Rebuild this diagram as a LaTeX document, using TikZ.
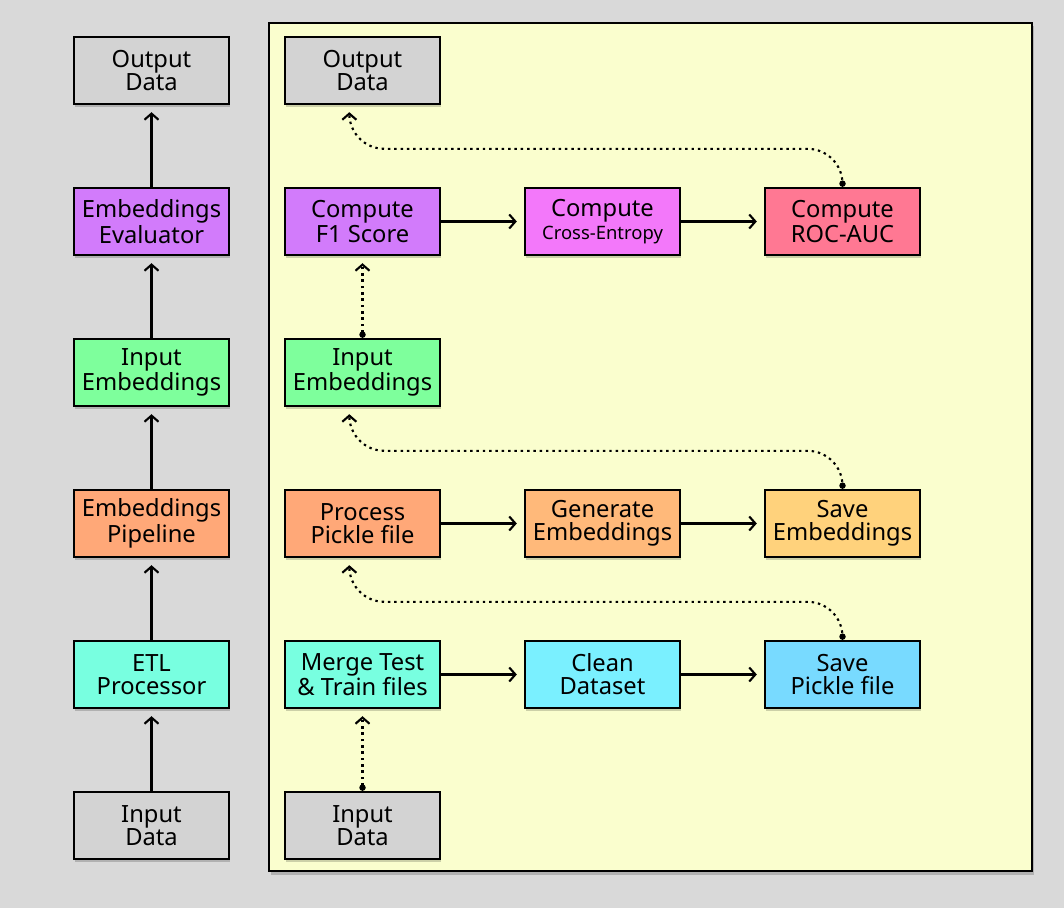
\documentclass[tikz,border=0pt]{standalone}
\usepackage{fontspec}
\setmainfont{Noto Sans}
\usetikzlibrary{arrows.meta, shadows, positioning}

\definecolor{bggray}{HTML}{D9D9D9}
\definecolor{panelyellow}{HTML}{FAFECE}
\definecolor{datagray}{HTML}{D3D3D3}
\definecolor{evalpurple}{HTML}{D27BFB}
\definecolor{xentmagenta}{HTML}{F378FA}
\definecolor{rocred}{HTML}{FF7893}
\definecolor{embgreen}{HTML}{7EFF9C}
\definecolor{pipeorange}{HTML}{FFA878}
\definecolor{genorange}{HTML}{FFB97A}
\definecolor{saveyellow}{HTML}{FFD27C}
\definecolor{etlteal}{HTML}{78FFE0}
\definecolor{cleancyan}{HTML}{7AF0FF}
\definecolor{pickleblue}{HTML}{78DAFF}

\tikzset{
  box/.style={draw, line width=1.35pt, minimum width=3.1cm, minimum height=1.34cm,
    inner sep=0pt, align=center, font=\fontsize{13.5}{13}\selectfont,
    drop shadow={shadow xshift=0.6pt, shadow yshift=-1.6pt, opacity=0.18, fill=black}},
  flow/.style={line width=1.3pt, -{Straight Barb[length=3.5pt, width=8pt, line width=1.2pt]}, shorten >=4pt},
  flowdot/.style={line width=1.2pt, dash pattern=on 1.4pt off 2.2pt, rounded corners=0.7cm,
    {Circle[length=3.6pt]}-{Straight Barb[length=3.5pt, width=8pt, line width=1.2pt]}, shorten >=4pt}
}

\begin{document}
\begin{tikzpicture}[x=0.02cm, y=0.02cm]
  % background
  \fill[bggray] (0,0) rectangle (1064,908);
  \useasboundingbox (0,0) rectangle (1064,908);

  % left column
  \node[box, fill=datagray]   (outL)  at (151.5,837.5) {Output\\Data};
  \node[box, fill=evalpurple] (evalL) at (151.5,686.5) {Embeddings\\Evaluator};
  \node[box, fill=embgreen]   (embL)  at (151.5,535.5) {Input\\Embeddings};
  \node[box, fill=pipeorange] (pipeL) at (151.5,384.5) {Embeddings\\Pipeline};
  \node[box, fill=etlteal]    (etlL)  at (151.5,233.5) {ETL\\Processor};
  \node[box, fill=datagray]   (inL)   at (151.5,82.5)  {Input\\Data};

  \draw[flow] (inL) -- (etlL);
  \draw[flow] (etlL) -- (pipeL);
  \draw[flow] (pipeL) -- (embL);
  \draw[flow] (embL) -- (evalL);
  \draw[flow] (evalL) -- (outL);

  % detail panel
  \draw[line width=1.5pt, fill=panelyellow,
    drop shadow={shadow xshift=1pt, shadow yshift=-2pt, opacity=0.18, fill=black}]
    (269,37) rectangle (1032,885);

  % evaluation row
  \node[box, fill=datagray]    (outR) at (362.5,837.5) {Output\\Data};
  \node[box, fill=evalpurple]  (f1)   at (362.5,686.5) {Compute\\F1 Score};
  \node[box, fill=xentmagenta] (xent) at (602.5,686.5) {Compute\\{\fontsize{10.5}{12}\selectfont Cross-Entropy}};
  \node[box, fill=rocred]      (roc)  at (842.5,686.5) {Compute\\ROC-AUC};

  % embeddings row
  \node[box, fill=embgreen]    (embR) at (362.5,535.5) {Input\\Embeddings};
  \node[box, fill=pipeorange]  (proc) at (362.5,384.5) {Process\\Pickle file};
  \node[box, fill=genorange]   (gen)  at (602.5,384.5) {Generate\\Embeddings};
  \node[box, fill=saveyellow]  (saveE) at (842.5,384.5) {Save\\Embeddings};

  % etl row
  \node[box, fill=etlteal]     (merge) at (362.5,233.5) {Merge Test\\\& Train files};
  \node[box, fill=cleancyan]   (clean) at (602.5,233.5) {Clean\\Dataset};
  \node[box, fill=pickleblue]  (saveP) at (842.5,233.5) {Save\\Pickle file};
  \node[box, fill=datagray]    (inR)   at (362.5,82.5)  {Input\\Data};

  % solid flow
  \draw[flow] (f1) -- (xent);
  \draw[flow] (xent) -- (roc);
  \draw[flow] (proc) -- (gen);
  \draw[flow] (gen) -- (saveE);
  \draw[flow] (merge) -- (clean);
  \draw[flow] (clean) -- (saveP);

  % dotted hand-offs
  \draw[flowdot] (inR.north) -- (merge.south);
  \draw[flowdot] (embR.north) -- (f1.south);
  \draw[flowdot] (saveP.north) -- ++(0,38) -| ([xshift=-7.5]proc.south);
  \draw[flowdot] (saveE.north) -- ++(0,38) -| ([xshift=-7.5]embR.south);
  \draw[flowdot] (roc.north) -- ++(0,38) -| ([xshift=-7.5]outR.south);
\end{tikzpicture}
\end{document}
